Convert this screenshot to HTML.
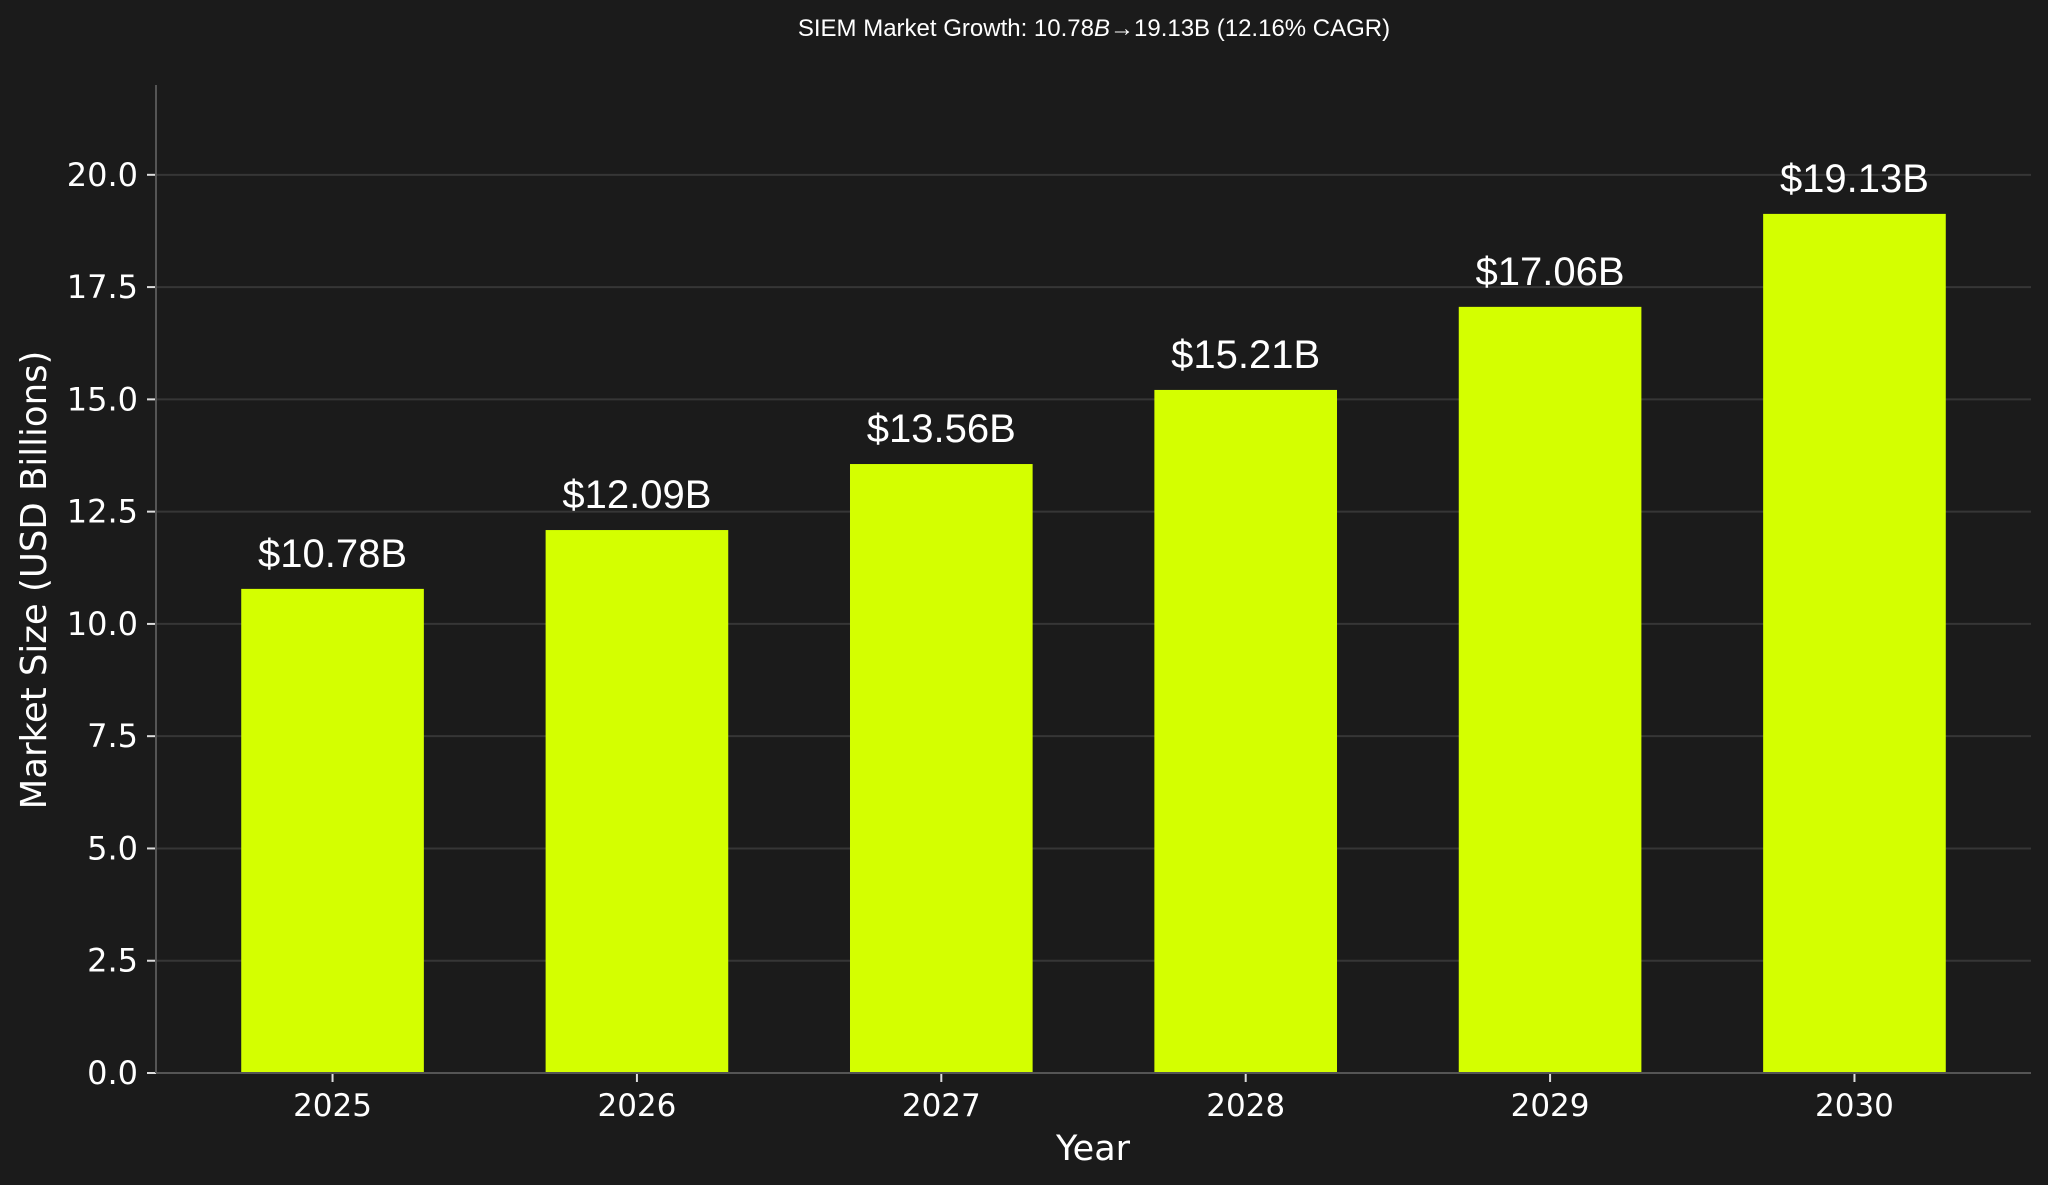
<!DOCTYPE html>
<html><head><meta charset="utf-8"><style>
html,body{margin:0;padding:0;background:#1b1b1b;}
svg{display:block;}
</style></head><body>
<svg id="chart" width="2048" height="1185" xmlns="http://www.w3.org/2000/svg">
<rect width="2048" height="1185" fill="#1b1b1b"/>
<text x="1094" y="36" fill="#ffffff" font-family="Liberation Sans, sans-serif" font-size="24" text-anchor="middle">SIEM Market Growth: 10.78<tspan font-style="italic">B</tspan>→19.13B (12.16% CAGR)</text>
<g id="grid"></g>
<g id="bars"></g>
<g id="axes"></g>
<text x="1093" y="1160" fill="#ffffff" font-family="DejaVu Sans, sans-serif" font-size="35" text-anchor="middle">Year</text>
<text transform="translate(46,580) rotate(-90)" fill="#ffffff" font-family="DejaVu Sans, sans-serif" font-size="35.5" text-anchor="middle">Market Size (USD Billions)</text>
</svg>
<script>
const categories = ["2025","2026","2027","2028","2029","2030"];
const values = [10.78, 12.09, 13.56, 15.21, 17.06, 19.13];
const valueLabels = ["$10.78B","$12.09B","$13.56B","$15.21B","$17.06B","$19.13B"];
const yTicks = [0, 2.5, 5, 7.5, 10, 12.5, 15, 17.5, 20];

const L=156, R=2031, T=85, B=1073;
const yMax=22, xMin=-0.58, xMax=5.58, barW=0.6;
const NS="http://www.w3.org/2000/svg";
function yS(v){return B-(v/yMax)*(B-T);}
function xS(i){return L+(i-xMin)/(xMax-xMin)*(R-L);}
function mk(tag,attrs,parent,txt){const e=document.createElementNS(NS,tag);for(const k in attrs)e.setAttribute(k,attrs[k]);if(txt!==undefined)e.textContent=txt;document.getElementById(parent).appendChild(e);return e;}

yTicks.forEach(t=>{
  const y=yS(t);
  if(t>0){const g=mk('line',{x1:L,x2:R,y1:y,y2:y,stroke:'#363636','stroke-width':2},'grid');
    
    }
  const tk=mk('line',{x1:L-9,x2:L,y1:y,y2:y,stroke:'#dddddd','stroke-width':2},'axes');
  
  
  const lb=mk('text',{x:L-18,y:y+11,fill:'#ffffff','font-family':'DejaVu Sans, sans-serif','font-size':32,'text-anchor':'end'},'axes',t.toFixed(1));
  
  
});
categories.forEach((c,i)=>{
  const cx=xS(i), w=barW/(xMax-xMin)*(R-L);
  const r=mk('rect',{x:cx-w/2,y:yS(values[i]),width:w,height:B-yS(values[i]),fill:'#d4ff00'},'bars');
  
  
  const vl=mk('text',{x:cx,y:yS(values[i])-22,fill:'#ffffff','font-family':'Liberation Sans, sans-serif','font-size':40,'text-anchor':'middle'},'bars',valueLabels[i]);
  
  
  const tk=mk('line',{x1:cx,x2:cx,y1:B,y2:B+9,stroke:'#dddddd','stroke-width':2},'axes');
  
  
  const lb=mk('text',{x:cx,y:1116,fill:'#ffffff','font-family':'DejaVu Sans, sans-serif','font-size':31,'text-anchor':'middle'},'axes',c);
  
  
});
const ya=mk('line',{x1:L,x2:L,y1:T,y2:B,stroke:'#555555','stroke-width':2},'axes');


const xa=mk('line',{x1:L,x2:R,y1:B,y2:B,stroke:'#555555','stroke-width':2},'axes');


</script>
</body></html>
